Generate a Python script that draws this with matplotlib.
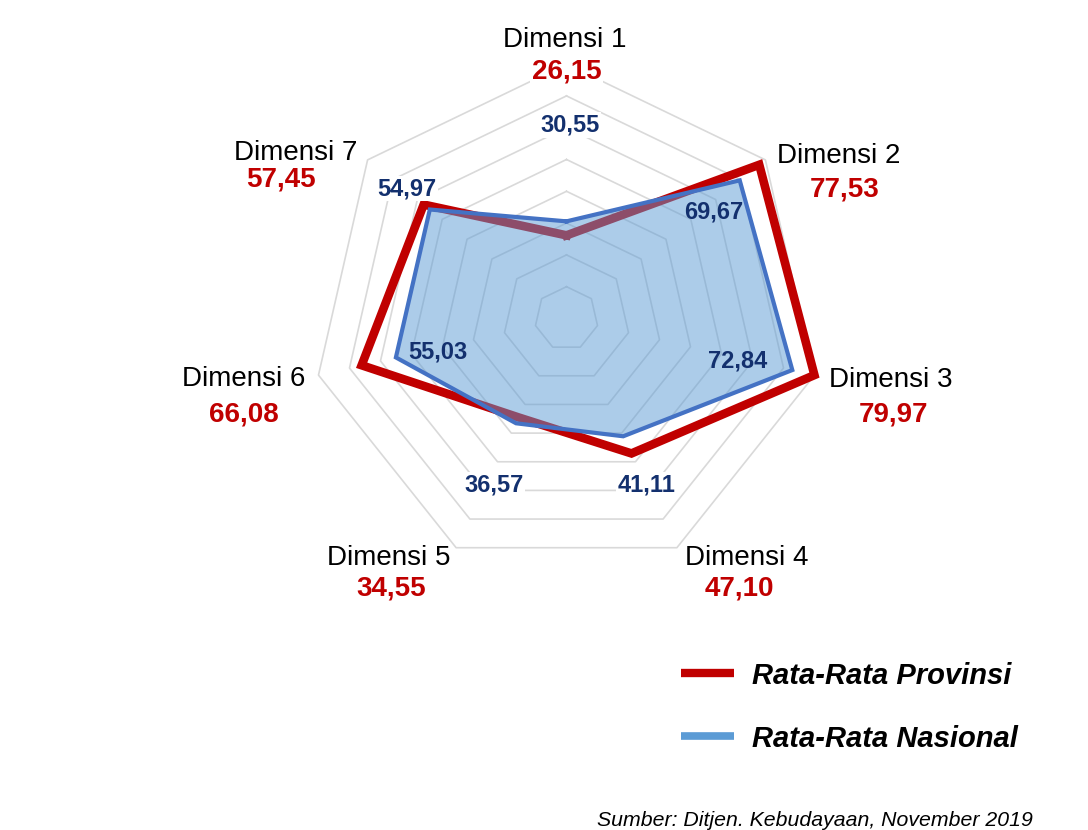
import numpy as np
import matplotlib
matplotlib.use("Agg")
import matplotlib.pyplot as plt
from matplotlib.lines import Line2D
from matplotlib.path import Path

# ---------------- data ----------------
categories = ["Dimensi 1", "Dimensi 2", "Dimensi 3", "Dimensi 4",
              "Dimensi 5", "Dimensi 6", "Dimensi 7"]
provinsi = [26.15, 77.53, 79.97, 47.10, 34.55, 66.08, 57.45]
nasional = [30.55, 69.67, 72.84, 41.11, 36.57, 55.03, 54.97]
ring_values = [10, 20, 30, 40, 50, 60, 70, 80]
series_names = ["Rata-Rata Provinsi", "Rata-Rata Nasional"]
source_text = "Sumber: Ditjen. Kebudayaan, November 2019"

def fmt(v):
    return f"{v:.2f}".replace(".", ",")

# ---------------- layout ----------------
W, H = 1088, 830
CX, CY = 566.5, 318.5      # pixel centre of radar
K = 3.18                    # pixels per value unit

plt.rcParams['font.family'] = ['Liberation Sans', 'DejaVu Sans']

fig = plt.figure(figsize=(W / 100, H / 100), dpi=100)
ax = fig.add_axes([0, 0, 1, 1])
ax.set_xlim(-CX / K, (W - CX) / K)
ax.set_ylim(-(H - CY) / K, CY / K)
ax.set_aspect('equal', adjustable='datalim')
ax.axis('off')

def P(px, py):
    """pixel position -> data coords"""
    return ((px - CX) / K, (CY - py) / K)

n = len(categories)
ang = np.arange(n) * 2 * np.pi / n   # clockwise from top

def xy(vals):
    v = np.asarray(vals, dtype=float)
    x = v * np.sin(ang)
    y = v * np.cos(ang)
    return np.append(x, x[0]), np.append(y, y[0])

# grid rings
for r in ring_values:
    gx, gy = xy([r] * n)
    ax.plot(gx, gy, color='#D9D9D9', lw=1.2, zorder=1)

# provinsi series (under the fill)
px_, py_ = xy(provinsi)
ax.plot(px_, py_, color='#C00000', lw=6.2, zorder=2,
        solid_joinstyle='miter')

# nasional series
nx_, ny_ = xy(nasional)
ax.fill(nx_, ny_, color='#5B9BD5', alpha=0.5, zorder=3, lw=0)
ax.plot(nx_, ny_, color='#4472C4', lw=3.0, zorder=4,
        solid_joinstyle='miter')
nas_path = Path(np.column_stack([nx_, ny_]))

# ---------------- labels ----------------
cat_pos = [(565, 46.7), (838.5, 163.3), (890.3, 386.7), (747, 565),
           (389, 565), (243.7, 385.7), (295.8, 160)]
prov_pos = [(566.7, 78.3), (844.5, 196.7), (893.3, 421.7), (739, 595),
            (391, 595), (244, 421), (280.8, 186)]
nas_pos = [(570, 131.7), (713.2, 218.4), (737.7, 367.5), (646.7, 491.7),
           (494.2, 491.7), (438.1, 358.6), (406.8, 195)]

wbox = dict(facecolor='white', edgecolor='none', pad=1.0)
for i in range(n):
    x, y = P(*cat_pos[i])
    ax.text(x, y, categories[i], ha='center', va='baseline', fontsize=20,
            color='black', zorder=6)
    x, y = P(*prov_pos[i])
    ax.text(x, y, fmt(provinsi[i]), ha='center', va='baseline', fontsize=20,
            fontweight='bold', color='#C00000', bbox=wbox, zorder=6)
    x, y = P(*nas_pos[i])
    inside = nas_path.contains_point((x, y + 2))
    ax.text(x, y, fmt(nasional[i]), ha='center', va='baseline', fontsize=17,
            fontweight='bold', color='#13306E',
            bbox=None if inside else wbox, zorder=6)

# ---------------- legend ----------------
def F(px, py):
    return (px / W, 1 - py / H)

leg_items = [(series_names[0], '#C00000', 673, 684, 6.0),
             (series_names[1], '#5B9BD5', 736, 747.3, 5.5)]
for name, col, ly, ty, lw in leg_items:
    (x0, y0), (x1, _) = F(681, ly), F(734, ly)
    fig.add_artist(Line2D([x0, x1], [y0, y0], color=col, lw=lw,
                          solid_capstyle='butt', transform=fig.transFigure))
    tx, tyy = F(752, ty)
    fig.text(tx, tyy, name, ha='left', va='baseline', fontsize=21,
             fontweight='bold', fontstyle='italic', color='black')

# source
sx, sy = F(1033, 826)
fig.text(sx, sy, source_text, ha='right', va='baseline', fontsize=15.3,
         fontstyle='italic', color='black')

fig.savefig("out.png", dpi=100)
